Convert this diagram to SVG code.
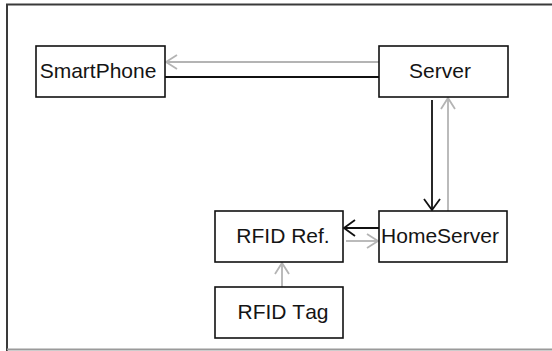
<svg xmlns="http://www.w3.org/2000/svg" width="552" height="351" viewBox="0 0 552 351">
  <style>
    .box { fill: #ffffff; stroke: #111111; stroke-width: 1.6; }
    .label { font-family: "Liberation Sans", Arial, sans-serif; font-size: 21px; fill: #141414; text-anchor: middle; font-kerning: none; }
    .dark { stroke: #111111; stroke-width: 1.8; fill: none; }
    .light { stroke: #b4b4b4; stroke-width: 1.8; fill: none; }
  </style>
  <defs>
    <marker id="headDark" markerUnits="userSpaceOnUse" viewBox="-13 -10 15 20" refX="0" refY="0" markerWidth="15" markerHeight="20" orient="auto">
      <path d="M-11,-8 L0,0 L-11,8" fill="none" stroke="#111111" stroke-width="1.8"/>
    </marker>
    <marker id="headLight" markerUnits="userSpaceOnUse" viewBox="-13 -9 15 18" refX="0" refY="0" markerWidth="15" markerHeight="18" orient="auto">
      <path d="M-11,-7 L0,0 L-11,7" fill="none" stroke="#b4b4b4" stroke-width="1.8"/>
    </marker>
  </defs>

  <rect width="552" height="351" fill="#ffffff"/>

  <!-- frame: dark top and left edges, lighter bottom edge -->
  <path d="M7,351 L7,4.5 L552,4.5" fill="none" stroke="#3a3a3a" stroke-width="2"/>
  <path d="M7,349.5 L552,349.5" fill="none" stroke="#9a9a9a" stroke-width="2"/>

  <g id="connectors">
    <line class="light" x1="379" y1="62" x2="166" y2="62" marker-end="url(#headLight)"/>
    <line class="dark" x1="165" y1="77" x2="379" y2="77"/>
    <line class="dark" x1="432" y1="100" x2="432" y2="210" marker-end="url(#headDark)"/>
    <line class="light" x1="448" y1="211" x2="448" y2="98" marker-end="url(#headLight)"/>
    <line class="dark" x1="379" y1="228" x2="344" y2="228" marker-end="url(#headDark)"/>
    <line class="light" x1="346" y1="241" x2="378" y2="241" marker-end="url(#headLight)"/>
    <line class="light" x1="282" y1="287" x2="282" y2="263" marker-end="url(#headLight)"/>
  </g>

  <g id="smartphone">
    <rect class="box" x="36" y="46" width="129" height="51"/>
    <text class="label" x="98" y="78">SmartPhone</text>
  </g>
  <g id="server">
    <rect class="box" x="379" y="46" width="129" height="51"/>
    <text class="label" x="440" y="78">Server</text>
  </g>
  <g id="homeserver">
    <rect class="box" x="379" y="211" width="128" height="51"/>
    <text class="label" x="440" y="243">HomeServer</text>
  </g>
  <g id="rfid-ref">
    <rect class="box" x="215" y="211" width="128" height="51"/>
    <text class="label" x="283" y="243">RFID Ref.</text>
  </g>
  <g id="rfid-tag">
    <rect class="box" x="215" y="287" width="128" height="51"/>
    <text class="label" x="283" y="319">RFID Tag</text>
  </g>
</svg>
